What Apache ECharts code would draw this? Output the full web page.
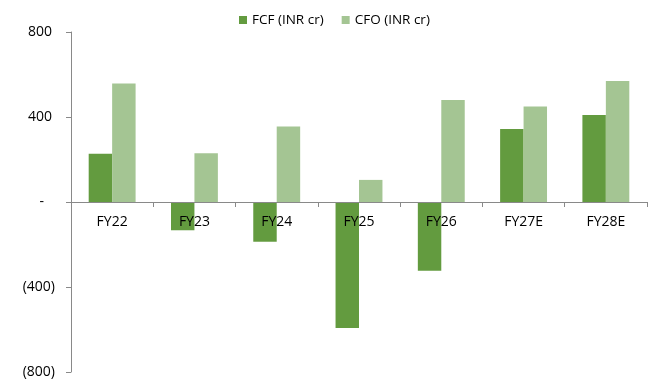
<!DOCTYPE html>
<html>
<head>
<meta charset="utf-8">
<script src="https://cdn.jsdelivr.net/npm/echarts@6/dist/echarts.min.js"></script>
<style>html,body{margin:0;padding:0;background:#fff}#c{width:658px;height:382px}</style>
</head>
<body>
<div id="c"></div>
<script>
const categories = ['FY22', 'FY23', 'FY24', 'FY25', 'FY26', 'FY27E', 'FY28E'];
const fcf = [227, -133, -187, -593, -323, 343, 410];
const cfo = [558, 230, 355, 104, 480, 450, 569];
const seriesNames = ['FCF (INR cr)', 'CFO (INR cr)'];
const yTicks = { min: -800, max: 800, interval: 400 };

const font = '"Open Sans", "Noto Sans", sans-serif';
const gridTop = 32, gridBottom = 10, H = 382;
const plotH = H - gridTop - gridBottom;
const zeroOffset = -plotH * (0 - yTicks.min) / (yTicks.max - yTicks.min);

const chart = echarts.init(document.getElementById('c'));
chart.setOption({
  animation: false,
  textStyle: { fontFamily: font },
  legend: {
    left: 239, top: 13, padding: 0,
    itemWidth: 8, itemHeight: 8, itemGap: 18,
    icon: 'rect',
    textStyle: { fontSize: 13.5, color: '#000', fontFamily: font },
    data: seriesNames
  },
  grid: { left: 71, right: 11, top: gridTop, bottom: gridBottom, containLabel: false, outerBoundsMode: 'none' },
  xAxis: {
    type: 'category',
    data: categories,
    z: 5,
    offset: zeroOffset,
    axisLine: { onZero: false, lineStyle: { color: '#898989', width: 1 } },
    axisTick: { show: true, length: 5, lineStyle: { color: '#898989' } },
    axisLabel: { color: '#000', fontSize: 14, margin: 13, fontFamily: font }
  },
  yAxis: {
    type: 'value',
    min: yTicks.min, max: yTicks.max, interval: yTicks.interval,
    splitLine: { show: false },
    axisLine: { show: true, lineStyle: { color: '#898989', width: 1 } },
    axisTick: { show: true, length: 5, lineStyle: { color: '#898989' } },
    axisLabel: {
      color: '#000', fontSize: 14, margin: 16, fontFamily: font,
      formatter: function (v) {
        if (v === 0) return '{z|-}';
        if (v < 0) return '(' + Math.abs(v) + ')';
        return '{p|' + v + '}';
      },
      rich: {
        p: { fontSize: 14, fontFamily: font, color: '#000', padding: [0, 3, 0, 0] },
        z: { fontSize: 14, fontFamily: font, color: '#000', padding: [0, 11, 0, 0] }
      }
    }
  },
  series: [
    {
      name: seriesNames[0], type: 'bar', data: fcf,
      barGap: '0%', barCategoryGap: '43%',
      itemStyle: { color: '#639b3f' }
    },
    {
      name: seriesNames[1], type: 'bar', data: cfo,
      barGap: '0%', barCategoryGap: '43%',
      itemStyle: { color: '#a4c593' }
    }
  ]
});
</script>
</body>
</html>
